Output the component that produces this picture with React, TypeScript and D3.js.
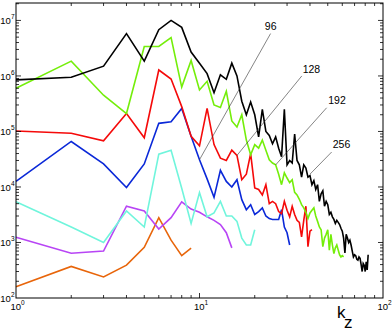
import React from "react";
import * as d3 from "d3";

const width = 392;
const height = 331;
const margin = { top: 3, right: 9, bottom: 33, left: 16 };

// spectra E(kz), one value per integer kz starting at kz = 1
const spec256 = [
  8.5e5, 9.5e5, 1.5e6, 5.8e6, 1.85e6, 6.8e6, 1.0e7, 7.5e6, 2.7e6, 1.7e6,
  1.1e6, 5.0e5, 1.05e6, 8.7e5, 1.7e6, 1.0e6, 3.5e5, 2.0e5, 3.4e5, 2.0e5,
  8.0e4, 2.5e5, 1.0e5, 8.5e4, 6.0e4, 8.0e4, 5.0e4, 3.5e4, 2.5e5, 2.5e4,
  3.0e4, 2.7e4, 9.0e4, 3.0e4, 2.5e4, 1.5e4, 2.5e4, 2.2e4, 1.5e4, 1.6e4,
  1.1e4, 1.3e4, 9.0e3, 1.1e4, 5.5e3, 7.5e3, 8.5e3, 4.5e3, 5.5e3, 4.8e3,
  3.2e3, 3.5e3, 2.9e3, 2.6e3, 2.2e3, 2.5e3, 2.3e3, 2.1e3, 1.8e3, 1.6e3,
  1.2e3, 6.5e2, 1.4e3, 1.2e3, 1.0e3, 1.1e3, 9.0e2, 7.0e2, 5.5e2, 6.0e2,
  5.8e2, 5.0e2, 4.8e2, 5.5e2, 5.2e2, 4.0e2, 3.0e2, 4.2e2, 3.9e2, 3.0e2,
  4.5e2, 3.2e2, 6.0e2
];
const spec192 = [
  6.0e5, 1.85e6, 4.5e5, 2.1e5, 3.4e6, 3.4e6, 4.9e6, 6.3e5, 1.9e6, 5.6e5,
  8.0e5, 3.0e5, 2.7e5, 5.3e5, 1.55e5, 1.2e5, 2.0e5, 7.0e4, 3.8e4, 5.8e4,
  5.0e4, 7.0e4, 4.6e4, 3.1e4, 2.7e4, 2.5e4, 1.7e4, 1.1e4, 1.8e4, 1.45e4,
  1.2e4, 1.35e4, 8.0e3, 7.2e3, 6.0e3, 4.8e3, 4.2e3, 3.5e3, 2.7e3, 3.4e3,
  3.8e3, 4.2e3, 3.0e3, 2.4e3, 1.9e3, 1.7e3, 8.4e2, 1.2e3, 1.4e3, 1.7e3,
  7.3e2, 1.4e3, 9.0e2, 6.3e2, 8.0e2, 9.0e2, 7.3e2, 6.0e2, 5.5e2, 5.8e2,
  5.5e2
];
const spec128 = [
  1.02e5, 9.3e4, 6.8e4, 2.1e5, 7.7e4, 1.28e6, 8.8e5, 2.8e5, 8.2e4, 5.5e4,
  2.6e5, 5.8e4, 3.3e4, 3.0e4, 4.6e4, 3.7e4, 1.35e4, 1.7e4, 4.0e4, 9.6e3,
  9.0e3, 7.2e3, 1.1e4, 5.0e3, 5.5e3, 5.0e3, 3.6e3, 3.3e3, 5.5e3, 3.8e3,
  2.9e3, 4.5e3, 3.2e3, 2.5e3, 2.3e3, 1.26e3, 2.5e3, 4.5e3, 8.4e2, 1.6e3,
  1.7e3
];
const spec96 = [
  1.26e4, 6.6e4, 2.6e4, 9.8e3, 2.6e4, 1.4e5, 1.5e5, 2.6e5, 8.2e4, 3.1e4,
  1.4e4, 6.5e3, 2.0e4, 1.26e4, 1.0e4, 1.35e4, 5.9e3, 3.9e3, 4.8e3, 3.2e3,
  3.6e3, 4.2e3, 3.0e3, 2.7e3, 2.6e3, 2.6e3, 2.6e3, 3.9e3, 1.9e3, 1.5e3,
  9.0e2
];
const spec64 = [
  5.4e3, 1.9e3, 1.0e3, 3.7e3, 1.9e3, 3.9e4, 4.6e4, 9.5e3, 2.2e3, 7.9e3,
  2.9e3, 3.4e3, 5.5e3, 3.0e3, 3.0e3, 2.4e3, 1.2e3, 9.0e2, 9.0e2, 1.7e3
];
const spec48 = [
  1.24e3, 6.4e2, 7.0e2, 4.5e3, 3.7e3, 1.75e3, 2.8e3, 5.4e3, 4.0e3, 3.5e3,
  2.9e3, 2.5e3, 2.1e3, 1.5e3, 8.0e2
];
const spec32 = [1.6e2, 3.7e2, 2.4e2, 3.9e2, 8.2e2, 2.8e3, 1.1e3, 5.8e2, 7.9e2];

const series = [
  { values: spec32, color: "#e8650a" },
  { values: spec48, color: "#b845f5" },
  { values: spec64, color: "#70f5dc" },
  { values: spec96, color: "#0a28d8" },
  { values: spec128, color: "#f50a0a" },
  { values: spec192, color: "#74ee0a" },
  { values: spec256, color: "#000000" }
];

// resolution labels: text anchor, leader line start and end, all in (kz, E)
const annLabels = ["96", "128", "192", "256"];
const annText = [[22.7, 6.7e6], [36.5, 1.15e6], [50.3, 3.06e5], [53.2, 4.95e4]];
const annFrom = [[24.4, 5.8e6], [36.1, 1.0e6], [49.3, 2.67e5], [52.5, 4.26e4]];
const annTo = [[10, 3.1e4], [16, 3.7e4], [26, 2.5e4], [40, 1.7e4]];

const xDomain = [1, 100];
const yDomain = [100, 2.06e7];
const xMajor = [1, 10, 100];
const yMajor = [1e2, 1e3, 1e4, 1e5, 1e6, 1e7];

const font = "'Liberation Sans', Arial, Helvetica, sans-serif";

export default function App() {
  const x0 = margin.left;
  const x1 = width - margin.right;
  const y0 = height - margin.bottom;
  const y1 = margin.top;
  const x = d3.scaleLog().domain(xDomain).range([x0, x1]);
  const y = d3.scaleLog().domain(yDomain).range([y0, y1]);

  const line = d3
    .line<number>()
    .x((d, i) => x(i + 1))
    .y((d) => y(d));

  const isMajor = (v: number) => Math.abs(Math.log10(v) - Math.round(Math.log10(v))) < 1e-9;
  const xTicks = x.ticks().filter((v) => v > xDomain[0] && v < xDomain[1]);
  const yTicks = y.ticks().filter((v) => v > yDomain[0] && v < yDomain[1]);

  const tickLen = (v: number) => (isMajor(v) ? 5 : 3);

  return (
    <svg
      width={width}
      height={height}
      style={{ position: "absolute", left: 0, top: 0, background: "#fff" }}
      fontFamily={font}
    >
      <rect x={0} y={0} width={width} height={height} fill="#fff" />

      {series.map((s, i) => (
        <path
          key={i}
          d={line(s.values) || ""}
          fill="none"
          stroke={s.color}
          strokeWidth={1.6}
          strokeLinejoin="miter"
        />
      ))}

      {annLabels.map((lab, i) => (
        <g key={lab}>
          <line
            x1={x(annFrom[i][0])}
            y1={y(annFrom[i][1])}
            x2={x(annTo[i][0])}
            y2={y(annTo[i][1])}
            stroke="#333"
            strokeWidth={0.6}
          />
          <text x={x(annText[i][0])} y={y(annText[i][1])} fontSize={10.5} fill="#000">
            {lab}
          </text>
        </g>
      ))}

      {/* frame */}
      <rect x={x0} y={y1} width={x1 - x0} height={y0 - y1} fill="none" stroke="#000" strokeWidth={1} />

      {/* x ticks, bottom and top */}
      {xTicks.map((v) => (
        <g key={"x" + v}>
          <line x1={x(v)} x2={x(v)} y1={y0} y2={y0 - tickLen(v)} stroke="#000" strokeWidth={0.8} />
          <line x1={x(v)} x2={x(v)} y1={y1} y2={y1 + tickLen(v)} stroke="#000" strokeWidth={0.8} />
        </g>
      ))}
      {/* y ticks, left and right */}
      {yTicks.map((v) => (
        <g key={"y" + v}>
          <line x1={x0} x2={x0 + tickLen(v)} y1={y(v)} y2={y(v)} stroke="#000" strokeWidth={0.8} />
          <line x1={x1} x2={x1 - tickLen(v)} y1={y(v)} y2={y(v)} stroke="#000" strokeWidth={0.8} />
        </g>
      ))}

      {/* tick labels */}
      {yMajor.map((v) => (
        <text key={"yl" + v} x={14.5} y={y(v) + 4} textAnchor="end" fontSize={9.5} fill="#000">
          10
          <tspan fontSize={6.5} dy={-5}>
            {Math.round(Math.log10(v))}
          </tspan>
        </text>
      ))}
      {xMajor.map((v) => (
        <text key={"xl" + v} x={x(v) + 1.5} y={y0 + 12} textAnchor="middle" fontSize={9.5} fill="#000">
          10
          <tspan fontSize={6.5} dy={-5}>
            {Math.round(Math.log10(v))}
          </tspan>
        </text>
      ))}

      {/* axis label */}
      <text x={337} y={318} fontSize={17} fill="#000">
        k
        <tspan dx={-1.5} dy={9.5}>
          z
        </tspan>
      </text>
    </svg>
  );
}
